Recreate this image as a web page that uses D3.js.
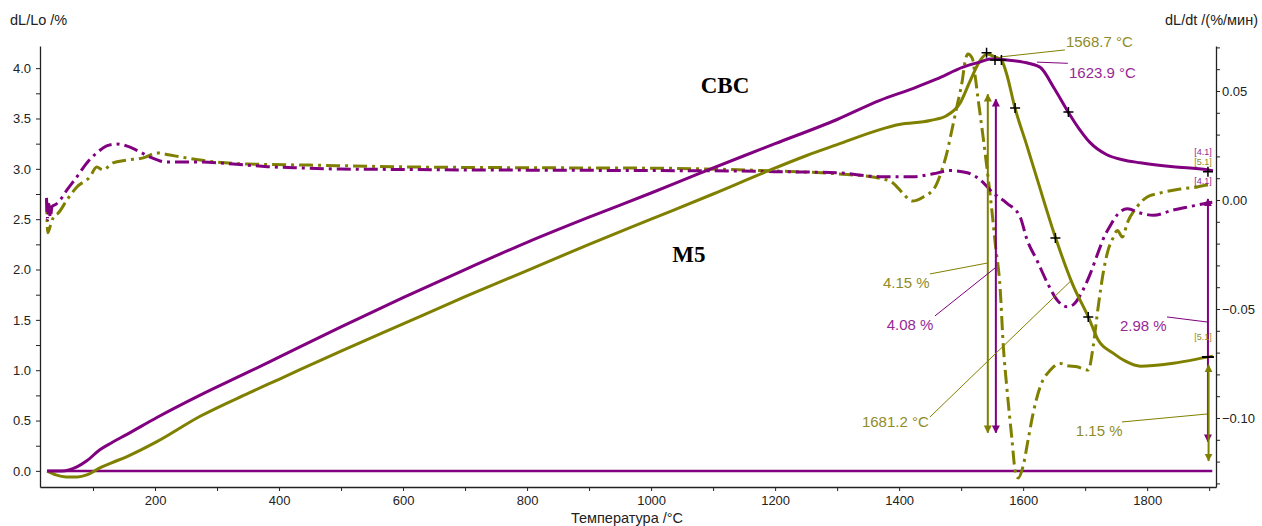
<!DOCTYPE html>
<html>
<head>
<meta charset="utf-8">
<script src="https://cdn.jsdelivr.net/npm/d3@7"></script>
<style>
    body { margin: 0; background: #fff; }
    svg { display: block; font-family: 'Liberation Sans', Arial, sans-serif; }
</style>
</head>
<body>
<svg id="chart" width="1262" height="526"></svg>
<script>
// CBC (purple) - dL/Lo, %
var cbcTemp = [26, 50, 74, 90, 111, 130, 154, 203, 272, 350, 400, 500, 600, 700, 800, 900, 1000, 1076, 1150, 1200, 1300, 1369, 1423, 1460, 1503, 1530, 1547, 1574, 1600, 1627, 1650, 1673, 1690, 1708, 1735, 1760, 1789, 1842, 1897, 1906];
var cbcDL = [0.0, 0.0, 0.04, 0.1, 0.21, 0.28, 0.36, 0.53, 0.75, 0.98, 1.13, 1.43, 1.72, 2.00, 2.27, 2.52, 2.76, 2.95, 3.13, 3.25, 3.49, 3.68, 3.80, 3.89, 4.01, 4.06, 4.09, 4.08, 4.06, 4.01, 3.80, 3.56, 3.40, 3.26, 3.14, 3.09, 3.06, 3.02, 2.99, 2.98];

// M5 (olive) - dL/Lo, %
var m5Temp = [26, 40, 57, 75, 90, 111, 130, 154, 203, 272, 350, 400, 500, 600, 700, 800, 900, 1000, 1100, 1181, 1250, 1300, 1369, 1400, 1450, 1477, 1498, 1515, 1531, 1542, 1555, 1565, 1573, 1587, 1605, 1623, 1652, 1680, 1705, 1721, 1745, 1765, 1789, 1842, 1897, 1906];
var m5DL = [0.0, -0.04, -0.06, -0.06, -0.04, 0.03, 0.08, 0.14, 0.29, 0.54, 0.77, 0.91, 1.19, 1.46, 1.73, 1.99, 2.25, 2.50, 2.75, 2.96, 3.13, 3.24, 3.39, 3.44, 3.48, 3.53, 3.65, 3.88, 4.08, 4.14, 4.11, 4.08, 3.95, 3.60, 3.25, 2.89, 2.32, 1.85, 1.53, 1.30, 1.17, 1.09, 1.04, 1.07, 1.13, 1.14];

// CBC rate dL/dt, %/min
var cbcRateTemp = [25, 27, 29, 31, 34, 40, 47, 58, 74, 90, 106, 122, 138, 154, 170, 192, 219, 273, 326, 381, 434, 500, 600, 700, 800, 900, 1000, 1100, 1200, 1300, 1369, 1423, 1455, 1482, 1510, 1531, 1552, 1574, 1595, 1606, 1622, 1639, 1655, 1671, 1681, 1697, 1708, 1721, 1729, 1740, 1756, 1768, 1789, 1810, 1842, 1869, 1897, 1905];
var cbcRate = [0.001, -0.009, -0.002, -0.008, -0.003, -0.002, 0.0, 0.0046, 0.0106, 0.017, 0.0216, 0.0248, 0.0257, 0.0248, 0.0229, 0.0197, 0.0174, 0.0174, 0.0165, 0.0153, 0.0147, 0.0142, 0.0140, 0.0138, 0.0137, 0.0136, 0.0135, 0.0134, 0.0130, 0.0125, 0.0107, 0.0107, 0.012, 0.0135, 0.0125, 0.0092, 0.0031, -0.0015, -0.0077, -0.018, -0.0275, -0.038, -0.046, -0.049, -0.048, -0.041, -0.034, -0.024, -0.018, -0.012, -0.0055, -0.004, -0.006, -0.007, -0.0046, -0.003, -0.0014, -0.001];

// M5 rate dL/dt, %/min
var m5RateTemp = [25, 27, 31, 36, 44, 58, 74, 95, 106, 116, 132, 154, 181, 203, 224, 251, 273, 350, 450, 600, 800, 1000, 1200, 1300, 1369, 1390, 1406, 1421, 1439, 1458, 1469, 1477, 1485, 1494, 1502, 1506, 1511, 1518, 1523, 1527, 1534, 1542, 1550, 1555, 1563, 1568, 1574, 1582, 1587, 1592, 1600, 1608, 1616, 1627, 1644, 1660, 1671, 1687, 1705, 1713, 1721, 1729, 1737, 1744, 1752, 1760, 1768, 1784, 1800, 1821, 1853, 1881, 1897, 1905];
var m5Rate = [0.0, -0.015, -0.012, -0.008, -0.006, 0.0, 0.006, 0.0106, 0.0151, 0.0138, 0.017, 0.0183, 0.0193, 0.0216, 0.0206, 0.0193, 0.0183, 0.0165, 0.016, 0.0152, 0.0148, 0.0146, 0.0133, 0.0120, 0.010, 0.0078, 0.0031, -0.0005, 0.0014, 0.006, 0.0138, 0.0216, 0.032, 0.044, 0.055, 0.063, 0.067, 0.065, 0.056, 0.047, 0.032, 0.0138, -0.006, -0.020, -0.041, -0.067, -0.087, -0.110, -0.124, -0.1275, -0.122, -0.110, -0.098, -0.086, -0.078, -0.075, -0.076, -0.0765, -0.078, -0.067, -0.049, -0.0336, -0.023, -0.018, -0.014, -0.017, -0.0105, -0.003, 0.0014, 0.0032, 0.005, 0.006, 0.0069, 0.007];

// axis ticks
var tempTicks = d3.range(100, 1901, 100);
var tempLabels = [200, 400, 600, 800, 1000, 1200, 1400, 1600, 1800];
var dlTicks = d3.range(0, 17).map(function (i) { return i * 0.25; });
var rateTicks = d3.range(-13, 8).map(function (i) { return i / 100; });

// annotations (temperature, dL/Lo value)
var stepLabels = [
    { text: '1568.7 °C', t: 1669, v: 4.21, lt: [1562.6, 1667.4], lv: [4.111, 4.181], c: 'm5' },
    { text: '1623.9 °C', t: 1674, v: 3.90, lt: [1622.3, 1672], lv: [4.06, 4.048], c: 'cbc' },
    { text: '4.15 %', t: 1374, v: 1.817, lt: [1449.7, 1542.8], lv: [1.956, 2.065], c: 'm5' },
    { text: '4.08 %', t: 1380, v: 1.40, lt: [1457.8, 1554.6], lv: [1.539, 2.015], c: 'cbc' },
    { text: '1681.2 °C', t: 1340, v: 0.436, lt: [1449.7, 1678.7], lv: [0.535, 1.898], c: 'm5' },
    { text: '2.98 %', t: 1756, v: 1.39, lt: [1832, 1896.5], lv: [1.529, 1.479], c: 'cbc' },
    { text: '1.15 %', t: 1685, v: 0.346, lt: [1759.4, 1896.5], lv: [0.486, 0.565], c: 'm5' }
];
var arrows = [
    { t: 1543, from: 3.74, to: 0.38, c: 'm5' },
    { t: 1556, from: 3.69, to: 0.38, c: 'cbc' },
    { t: 1898, from: 2.70, to: 0.29, c: 'cbc' },
    { t: 1899, from: 1.05, to: 0.10, c: 'm5' }
];
var crossPoints = [[1541, 4.154], [1554.6, 4.081], [1565, 4.081], [1587, 3.605], [1652, 2.313], [1673, 3.565], [1705, 1.529], [1898, 2.972]];
var tags = [
    { text: '[4.1]', v: 3.14, c: 'cbc' },
    { text: '[5.1]', v: 3.04, c: 'm5' },
    { text: '[4.1]', v: 2.85, c: 'cbc' },
    { text: '[5.1]', v: 1.30, c: 'm5' }
];

var colors = { cbc: '#800080', m5: '#808000' };
var textColors = { cbc: '#962896', m5: '#8f8c28' };

var svg = d3.select('#chart');

var x = d3.scaleLinear().domain([14.5, 1911]).range([40, 1216]);
var yL = d3.scaleLinear().domain([-0.16, 4.22]).range([487, 46]);
var yR = d3.scaleLinear().domain([-0.13165, 0.07064]).range([487, 46]);

// axes
var fmtDL = d3.format('.1f');
var fmtRate = d3.format('.2f');

var axisL = svg.append('g')
    .attr('transform', 'translate(40,0)')
    .call(d3.axisLeft(yL)
        .tickValues(dlTicks)
        .tickSize(4)
        .tickSizeOuter(0)
        .tickFormat(function (d) {
            return Math.abs(d * 2 - Math.round(d * 2)) < 1e-6 ? fmtDL(d) : '';
        }));

var axisR = svg.append('g')
    .attr('transform', 'translate(1216,0)')
    .call(d3.axisRight(yR)
        .tickValues(rateTicks)
        .tickSize(4)
        .tickSizeOuter(0)
        .tickFormat(function (d) {
            var k = Math.round(d * 100);
            return k % 5 === 0 ? fmtRate(d) : '';
        }));

var axisB = svg.append('g')
    .attr('transform', 'translate(0,487)')
    .call(d3.axisBottom(x)
        .tickValues(tempTicks)
        .tickSize(4)
        .tickSizeOuter(0)
        .tickFormat(function (d) {
            return tempLabels.indexOf(d) >= 0 ? d : '';
        }));

[axisL, axisR, axisB].forEach(function (g) {
    g.select('.domain').attr('stroke', '#222').attr('stroke-width', 1.3);
    g.selectAll('.tick line').attr('stroke', '#222');
    g.selectAll('.tick text')
        .attr('fill', '#222')
        .style('font-size', '13px')
        .style('font-family', "'Liberation Sans', Arial, sans-serif");
});
axisL.selectAll('.tick text').attr('x', -9);
axisR.selectAll('.tick text').attr('x', 6);
axisB.selectAll('.tick text').attr('y', 9);

// axis titles
svg.append('text').attr('x', 10).attr('y', 25)
    .attr('fill', '#222').style('font-size', '14.5px').text('dL/Lo /%');
svg.append('text').attr('x', 1258).attr('y', 25)
    .attr('text-anchor', 'end')
    .attr('fill', '#222').style('font-size', '14.5px').text('dL/dt /(%/мин)');
svg.append('text').attr('x', 627).attr('y', 523)
    .attr('text-anchor', 'middle')
    .attr('fill', '#222').style('font-size', '14.5px').text('Температура /°C');

// baseline
svg.append('line')
    .attr('x1', x(26)).attr('x2', x(1905))
    .attr('y1', yL(0)).attr('y2', yL(0))
    .attr('stroke', colors.cbc).attr('stroke-width', 2.5);

var lineL = d3.line()
    .x(function (d) { return x(d[0]); })
    .y(function (d) { return yL(d[1]); })
    .curve(d3.curveMonotoneX);

var lineR = d3.line()
    .x(function (d) { return x(d[0]); })
    .y(function (d) { return yR(d[1]); })
    .curve(d3.curveMonotoneX);

var plot = svg.append('g');

plot.append('path')
    .datum(d3.zip(m5RateTemp, m5Rate))
    .attr('d', lineR)
    .attr('fill', 'none')
    .attr('stroke', colors.m5)
    .attr('stroke-width', 3)
    .attr('stroke-dasharray', '14,5,3,5');

plot.append('path')
    .datum(d3.zip(cbcRateTemp, cbcRate))
    .attr('d', lineR)
    .attr('fill', 'none')
    .attr('stroke', colors.cbc)
    .attr('stroke-width', 3)
    .attr('stroke-dasharray', '14,5,3,5');

plot.append('path')
    .datum(d3.zip(m5Temp, m5DL))
    .attr('d', lineL)
    .attr('fill', 'none')
    .attr('stroke', colors.m5)
    .attr('stroke-width', 3);

plot.append('path')
    .datum(d3.zip(cbcTemp, cbcDL))
    .attr('d', lineL)
    .attr('fill', 'none')
    .attr('stroke', colors.cbc)
    .attr('stroke-width', 3);

// arrow markers
var defs = svg.append('defs');
Object.keys(colors).forEach(function (k) {
    defs.append('marker')
        .attr('id', 'arrow-' + k)
        .attr('viewBox', '0 0 10 10')
        .attr('refX', 9).attr('refY', 5)
        .attr('markerWidth', 4).attr('markerHeight', 4.5)
        .attr('orient', 'auto-start-reverse')
        .append('path')
        .attr('d', 'M0,0 L10,5 L0,10 Z')
        .attr('fill', colors[k]);
});

plot.selectAll('.step-arrow')
    .data(arrows)
    .enter()
    .append('line')
    .attr('class', 'step-arrow')
    .attr('x1', function (d) { return x(d.t); })
    .attr('x2', function (d) { return x(d.t); })
    .attr('y1', function (d) { return yL(d.from); })
    .attr('y2', function (d) { return yL(d.to); })
    .attr('stroke', function (d) { return colors[d.c]; })
    .attr('stroke-width', 2)
    .attr('marker-start', function (d) { return 'url(#arrow-' + d.c + ')'; })
    .attr('marker-end', function (d) { return 'url(#arrow-' + d.c + ')'; });

// leader lines and labels
plot.selectAll('.leader')
    .data(stepLabels)
    .enter()
    .append('line')
    .attr('class', 'leader')
    .attr('x1', function (d) { return x(d.lt[0]); })
    .attr('x2', function (d) { return x(d.lt[1]); })
    .attr('y1', function (d) { return yL(d.lv[0]); })
    .attr('y2', function (d) { return yL(d.lv[1]); })
    .attr('stroke', function (d) { return colors[d.c]; })
    .attr('stroke-width', 1);

plot.selectAll('.step-label')
    .data(stepLabels)
    .enter()
    .append('text')
    .attr('class', 'step-label')
    .attr('x', function (d) { return x(d.t); })
    .attr('y', function (d) { return yL(d.v); })
    .attr('fill', function (d) { return textColors[d.c]; })
    .style('font-size', '15px')
    .text(function (d) { return d.text; });

// crosses
plot.selectAll('.cross')
    .data(crossPoints)
    .enter()
    .append('path')
    .attr('class', 'cross')
    .attr('d', function (d) {
        var cx = x(d[0]);
        var cy = yL(d[1]);
        return 'M' + (cx - 5) + ',' + cy + 'H' + (cx + 5) + 'M' + cx + ',' + (cy - 5) + 'V' + (cy + 5);
    })
    .attr('stroke', '#000')
    .attr('stroke-width', 1.5);

plot.append('line')
    .attr('x1', x(1898) - 6).attr('x2', x(1898) + 6)
    .attr('y1', yL(1.131)).attr('y2', yL(1.131))
    .attr('stroke', '#000').attr('stroke-width', 2);

// small segment tags
plot.selectAll('.tag')
    .data(tags)
    .enter()
    .append('text')
    .attr('class', 'tag')
    .attr('x', x(1890))
    .attr('y', function (d) { return yL(d.v); })
    .attr('text-anchor', 'middle')
    .attr('fill', function (d) { return textColors[d.c]; })
    .style('font-size', '9px')
    .text(function (d) { return d.text; });

// sample names
svg.append('text')
    .attr('x', x(1080)).attr('y', yL(3.75))
    .style('font-family', "'Liberation Serif', 'Times New Roman', serif")
    .style('font-weight', 'bold')
    .style('font-size', '23px')
    .attr('fill', '#000')
    .text('CBC');

svg.append('text')
    .attr('x', x(1034)).attr('y', yL(2.07))
    .style('font-family', "'Liberation Serif', 'Times New Roman', serif")
    .style('font-weight', 'bold')
    .style('font-size', '23px')
    .attr('fill', '#000')
    .text('M5');
</script>
</body>
</html>
